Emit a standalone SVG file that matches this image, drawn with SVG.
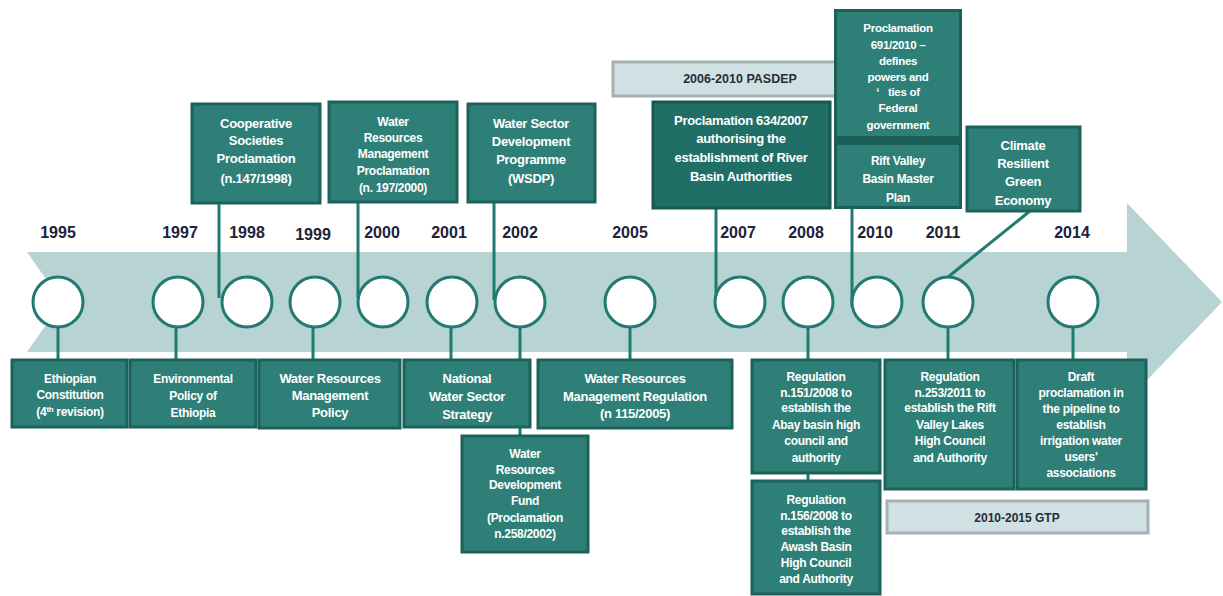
<svg xmlns="http://www.w3.org/2000/svg" width="1223" height="596" viewBox="0 0 1223 596">
<style>
.band{fill:#b7d3d3}
.c{fill:#fff;stroke:#237a72;stroke-width:3}
.ln{stroke:#1f7a72;stroke-width:3;fill:none}
.box{fill:#2e7f77;stroke:#1c625b;stroke-width:3}
.dbox{fill:#1f6f67;stroke:#175851;stroke-width:3}
.bar{fill:#cfe1e3;stroke:#a3b1b3;stroke-width:3}
.yr{font-family:"Liberation Sans",Arial,sans-serif;font-weight:bold;font-size:16px;fill:#22223a;text-anchor:middle}
.t{font-family:"Liberation Sans",Arial,sans-serif;font-weight:bold;font-size:13px;fill:#fff;text-anchor:middle;letter-spacing:-0.3px}
.s{font-size:12px}
.xs{font-size:11.5px}
.bt{font-family:"Liberation Sans",Arial,sans-serif;font-weight:bold;font-size:12.5px;fill:#2a2a3a;text-anchor:middle}
</style>
<polygon class="band" points="27,252 1127,252 1127,203 1222,302 1127,401 1127,352 27,352 62,302"/>
<g id="connectors">
<line class="ln" x1="219" y1="203" x2="219" y2="298"/>
<line class="ln" x1="358" y1="202" x2="358" y2="298"/>
<line class="ln" x1="494" y1="202" x2="494" y2="300"/>
<line class="ln" x1="716" y1="208" x2="716" y2="307"/>
<line class="ln" x1="852" y1="208" x2="852" y2="307"/>
<line class="ln" x1="1030" y1="211" x2="948" y2="277"/>
<line class="ln" x1="58" y1="327" x2="58" y2="360"/>
<line class="ln" x1="176" y1="327" x2="176" y2="360"/>
<line class="ln" x1="313" y1="327" x2="313" y2="360"/>
<line class="ln" x1="451" y1="327" x2="451" y2="360"/>
<line class="ln" x1="520" y1="327" x2="520" y2="436"/>
<line class="ln" x1="630" y1="327" x2="630" y2="360"/>
<line class="ln" x1="808" y1="327" x2="808" y2="481"/>
<line class="ln" x1="948" y1="327" x2="948" y2="360"/>
<line class="ln" x1="1073" y1="327" x2="1073" y2="360"/>
</g>
<g id="years">
<text class="yr" x="58" y="238">1995</text>
<text class="yr" x="180" y="238">1997</text>
<text class="yr" x="247" y="238">1998</text>
<text class="yr" x="313" y="240">1999</text>
<text class="yr" x="382" y="238">2000</text>
<text class="yr" x="449" y="238">2001</text>
<text class="yr" x="520" y="238">2002</text>
<text class="yr" x="630" y="238">2005</text>
<text class="yr" x="738" y="238">2007</text>
<text class="yr" x="806" y="238">2008</text>
<text class="yr" x="875" y="238">2010</text>
<text class="yr" x="943" y="238">2011</text>
<text class="yr" x="1072" y="238">2014</text>
</g>
<g id="circles">
<circle class="c" cx="58" cy="302" r="25"/>
<circle class="c" cx="178" cy="302" r="25"/>
<circle class="c" cx="247" cy="302" r="25"/>
<circle class="c" cx="315" cy="302" r="25"/>
<circle class="c" cx="383" cy="302" r="25"/>
<circle class="c" cx="452" cy="302" r="25"/>
<circle class="c" cx="520" cy="302" r="25"/>
<circle class="c" cx="630" cy="302" r="25"/>
<circle class="c" cx="740" cy="302" r="25"/>
<circle class="c" cx="808" cy="302" r="25"/>
<circle class="c" cx="877" cy="302" r="25"/>
<circle class="c" cx="948" cy="302" r="25"/>
<circle class="c" cx="1073" cy="302" r="25"/>
</g>
<g id="pasdep">
<rect class="bar" x="613" y="62" width="225" height="34"/>
<text class="bt" x="740" y="83">2006-2010 PASDEP</text>
</g>
<g id="gtp">
<rect class="bar" x="887" y="501" width="261" height="32"/>
<text class="bt" x="1017" y="522" style="font-size:12px">2010-2015 GTP</text>
</g>
<g id="coop">
<rect class="box" x="192" y="104" width="128" height="99"/>
<text class="t" x="256"><tspan x="256" y="128">Cooperative</tspan><tspan x="256" y="145">Societies</tspan><tspan x="256" y="163">Proclamation</tspan><tspan x="256" y="183">(n.147/1998)</tspan></text>
</g>
<g id="wrmp">
<rect class="box" x="329" y="102" width="128" height="100"/>
<text class="t s" x="393"><tspan x="393" y="126">Water</tspan><tspan x="393" y="142">Resources</tspan><tspan x="393" y="158">Management</tspan><tspan x="393" y="175">Proclamation</tspan><tspan x="393" y="192">(n. 197/2000)</tspan></text>
</g>
<g id="wsdp">
<rect class="box" x="468" y="104" width="127" height="98"/>
<text class="t" x="531"><tspan x="531" y="128">Water Sector</tspan><tspan x="531" y="146">Development</tspan><tspan x="531" y="164">Programme</tspan><tspan x="531" y="183">(WSDP)</tspan></text>
</g>
<g id="p634">
<rect class="dbox" x="653" y="102" width="177" height="106"/>
<text class="t" x="741"><tspan x="741" y="125">Proclamation 634/2007</tspan><tspan x="741" y="143">authorising the</tspan><tspan x="741" y="162">establishment of River</tspan><tspan x="741" y="181">Basin Authorities</tspan></text>
</g>
<g id="p691">
<rect x="834" y="9" width="128" height="200" fill="#1b5f58"/>
<rect x="837" y="12" width="122" height="124" fill="#2e7f77"/>
<text class="t xs" x="898" xml:space="preserve"><tspan x="898" y="32">Proclamation</tspan><tspan x="898" y="49">691/2010 –</tspan><tspan x="898" y="65">defines</tspan><tspan x="898" y="81">powers and</tspan><tspan x="898" y="96">‘   ties of</tspan><tspan x="898" y="112">Federal</tspan><tspan x="898" y="129">government</tspan></text>
</g>
<g id="riftplan">
<rect x="837" y="145" width="122" height="61" fill="#2e7f77"/>
<text class="t s" x="898"><tspan x="898" y="165">Rift Valley</tspan><tspan x="898" y="183">Basin Master</tspan><tspan x="898" y="202">Plan</tspan></text>
</g>
<g id="climate">
<rect class="box" x="967" y="127" width="113" height="84"/>
<text class="t" x="1023"><tspan x="1023" y="150">Climate</tspan><tspan x="1023" y="168">Resilient</tspan><tspan x="1023" y="186">Green</tspan><tspan x="1023" y="205">Economy</tspan></text>
</g>
<g id="constitution">
<rect class="box" x="12" y="360" width="115" height="67"/>
<text class="t s" x="70"><tspan x="70" y="383">Ethiopian</tspan><tspan x="70" y="399">Constitution</tspan><tspan x="70" y="416">(4<tspan baseline-shift="super" style="font-size:8px">th</tspan> revision)</tspan></text>
</g>
<g id="envpolicy">
<rect class="box" x="130" y="360" width="126" height="67"/>
<text class="t s" x="193"><tspan x="193" y="383">Environmental</tspan><tspan x="193" y="400">Policy of</tspan><tspan x="193" y="417">Ethiopia</tspan></text>
</g>
<g id="wrmpolicy">
<rect class="box" x="259" y="360" width="141" height="68"/>
<text class="t" x="330"><tspan x="330" y="383">Water Resources</tspan><tspan x="330" y="400">Management</tspan><tspan x="330" y="417">Policy</tspan></text>
</g>
<g id="strategy">
<rect class="box" x="404" y="360" width="126" height="67"/>
<text class="t" x="467"><tspan x="467" y="383">National</tspan><tspan x="467" y="401">Water Sector</tspan><tspan x="467" y="419">Strategy</tspan></text>
</g>
<g id="regulation115">
<rect class="box" x="538" y="360" width="194" height="68"/>
<text class="t" x="635"><tspan x="635" y="383">Water Resources</tspan><tspan x="635" y="401">Management Regulation</tspan><tspan x="635" y="418">(n 115/2005)</tspan></text>
</g>
<g id="fund">
<rect class="box" x="462" y="436" width="126" height="116"/>
<text class="t s" x="525"><tspan x="525" y="458">Water</tspan><tspan x="525" y="474">Resources</tspan><tspan x="525" y="489">Development</tspan><tspan x="525" y="505">Fund</tspan><tspan x="525" y="522">(Proclamation</tspan><tspan x="525" y="538">n.258/2002)</tspan></text>
</g>
<g id="reg151">
<rect class="box" x="752" y="360" width="128" height="113"/>
<text class="t s" x="816"><tspan x="816" y="381">Regulation</tspan><tspan x="816" y="397">n.151/2008 to</tspan><tspan x="816" y="412">establish the</tspan><tspan x="816" y="429">Abay basin high</tspan><tspan x="816" y="445">council and</tspan><tspan x="816" y="462">authority</tspan></text>
</g>
<g id="reg156">
<rect class="box" x="752" y="481" width="128" height="113"/>
<text class="t s" x="816"><tspan x="816" y="504">Regulation</tspan><tspan x="816" y="520">n.156/2008 to</tspan><tspan x="816" y="535">establish the</tspan><tspan x="816" y="551">Awash Basin</tspan><tspan x="816" y="567">High Council</tspan><tspan x="816" y="583">and Authority</tspan></text>
</g>
<g id="reg253">
<rect class="box" x="885" y="360" width="129" height="129"/>
<text class="t s" x="950"><tspan x="950" y="381">Regulation</tspan><tspan x="950" y="397">n.253/2011 to</tspan><tspan x="950" y="412">establish the Rift</tspan><tspan x="950" y="429">Valley Lakes</tspan><tspan x="950" y="445">High Council</tspan><tspan x="950" y="462">and Authority</tspan></text>
</g>
<g id="draft">
<rect class="box" x="1017" y="360" width="129" height="129"/>
<text class="t s" x="1081"><tspan x="1081" y="381">Draft</tspan><tspan x="1081" y="397">proclamation in</tspan><tspan x="1081" y="413">the pipeline to</tspan><tspan x="1081" y="429">establish</tspan><tspan x="1081" y="445">irrigation water</tspan><tspan x="1081" y="461">users'</tspan><tspan x="1081" y="477">associations</tspan></text>
</g>
</svg>
